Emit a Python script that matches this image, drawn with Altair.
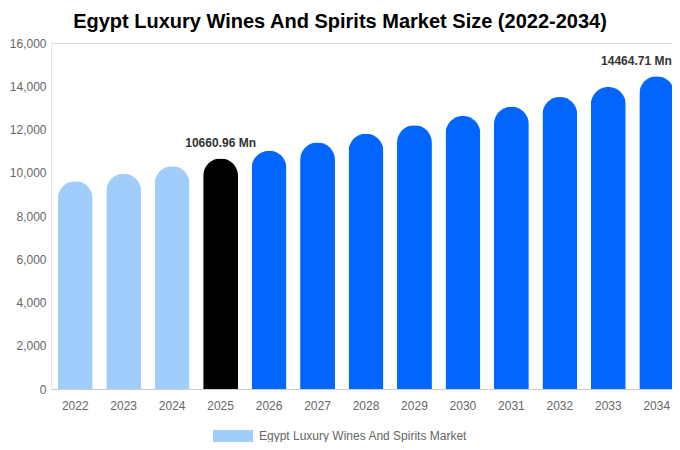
import altair as alt
import pandas as pd

years = ["2022", "2023", "2024", "2025", "2026", "2027", "2028",
         "2029", "2030", "2031", "2032", "2033", "2034"]
values = [9610, 9950, 10300, 10660.96, 11020, 11400, 11800,
          12200, 12620, 13050, 13500, 13970, 14464.71]
labels = ["", "", "", "10660.96 Mn", "", "", "", "", "", "", "", "", "14464.71 Mn"]
series_name = "Egypt Luxury Wines And Spirits Market"
phases = [series_name] * 3 + ["Base Year"] + ["Forecast"] * 9

df = pd.DataFrame({"year": years, "value": values, "label": labels, "phase": phases})

FONT = "Liberation Sans"

base = alt.Chart(df)

bars = base.mark_bar(
    cornerRadiusTopLeft=17.5, cornerRadiusTopRight=17.5
).encode(
    x=alt.X("year:N", sort=years,
            scale=alt.Scale(paddingInner=0.28, paddingOuter=0.14),
            axis=alt.Axis(title=None, labelAngle=0, ticks=False, domainColor="#cccccc",
                          labelColor="#666666", labelFontSize=12, labelPadding=11,
                          labelFont=FONT)),
    y=alt.Y("value:Q",
            scale=alt.Scale(domain=[0, 16000], nice=False),
            axis=alt.Axis(title=None, values=list(range(0, 16001, 2000)), format=",.0f",
                          grid=False, ticks=False, domainColor="#e6e6e6",
                          labelColor="#666666", labelFontSize=12, labelPadding=5,
                          labelFont=FONT)),
    color=alt.Color("phase:N",
                    scale=alt.Scale(domain=[series_name, "Base Year", "Forecast"],
                                    range=["#a1cdfd", "#000000", "#0066ff"]),
                    legend=alt.Legend(title=None, values=[series_name], orient="none",
                                      legendX=162, legendY=373, padding=0,
                                      symbolType="M-1,-0.3H1V0.3H-1Z", symbolSize=1600,
                                      symbolStrokeWidth=0, labelOffset=6, labelLimit=0,
                                      labelFontSize=12, labelColor="#666666",
                                      labelFont=FONT)),
)

text_mid = base.transform_filter(alt.datum.year == "2025").mark_text(
    baseline="alphabetic", dy=-11, fontSize=12, fontWeight="bold",
    color="#333333", font=FONT
).encode(
    x=alt.X("year:N", sort=years),
    y=alt.Y("value:Q"),
    text="label:N",
)

text_end = base.transform_filter(alt.datum.year == "2034").mark_text(
    baseline="alphabetic", align="right", dx=15, dy=-11, fontSize=12, fontWeight="bold",
    color="#333333", font=FONT
).encode(
    x=alt.X("year:N", sort=years),
    y=alt.Y("value:Q"),
    text="label:N",
)

chart = alt.layer(bars, text_mid, text_end).properties(
    width=630, height=346,
    autosize=alt.AutoSizeParams(type="none"),
    padding={"left": 43, "top": 35, "right": -9, "bottom": 53},
    title=alt.TitleParams(
        "Egypt Luxury Wines And Spirits Market Size (2022-2034)",
        fontSize=20, fontWeight="bold", color="#000000", font=FONT,
        anchor="middle", dx=-26, offset=5,
    ),
).configure_view(stroke=None).configure(font=FONT)

chart.save("out.html", embed_options={"renderer": "svg", "actions": False})
